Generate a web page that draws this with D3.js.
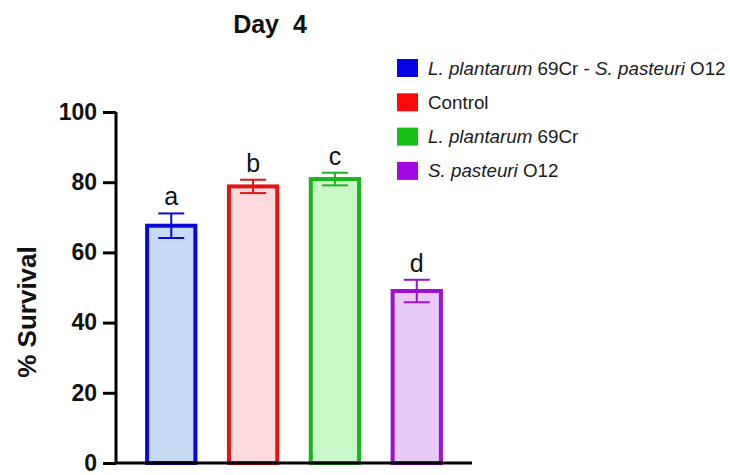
<!DOCTYPE html>
<html>
<head>
<meta charset="utf-8">
<script src="https://cdn.jsdelivr.net/npm/d3@7"></script>
<style>
  html, body { margin: 0; padding: 0; background: #fff; }
  text { font-family: "Liberation Sans", Arial, Helvetica, sans-serif; }
</style>
</head>
<body>
<svg id="chart" width="730" height="475"></svg>
<script>
// Day 4 survival per treatment group (mean ± SD) with significance letters
const groups = ["L. plantarum 69Cr - S. pasteuri O12", "Control", "L. plantarum 69Cr", "S. pasteuri O12"];
const means = [67.6, 78.8, 80.9, 49.0];
const errors = [3.5, 1.9, 1.8, 3.2];
const letters = ["a", "b", "c", "d"];
const yTicks = [0, 20, 40, 60, 80, 100];
const strokeColors = ["#0a0ad8", "#e21414", "#1cb41c", "#9a12d6"];
const fillColors = ["#c6daf4", "#fcdadd", "#c9f8c8", "#e9c9f5"];
const swatchColors = ["#0606e4", "#fb0a0a", "#14c014", "#a308e2"];
// legend entries as [text, italic] segments
const legendLabels = [
  [["L. plantarum", true], [" 69Cr - ", false], ["S. pasteuri", true], [" O12", false]],
  [["Control", false]],
  [["L. plantarum", true], [" 69Cr", false]],
  [["S. pasteuri", true], [" O12", false]]
];

const svg = d3.select("#chart");

const x = d3.scaleBand()
  .domain(groups)
  .range([116, 472])
  .paddingInner(0.41)
  .paddingOuter(0.38);

const y = d3.scaleLinear().domain([0, 100]).range([463, 112]);

// bars
const bars = svg.append("g");
groups.forEach((g, i) => {
  bars.append("rect")
    .attr("x", x(g))
    .attr("y", y(means[i]))
    .attr("width", x.bandwidth())
    .attr("height", y(0) - y(means[i]))
    .attr("fill", fillColors[i])
    .attr("stroke", strokeColors[i])
    .attr("stroke-width", 4);
});

// error bars and group letters
const capW = 26;
groups.forEach((g, i) => {
  const cx = x(g) + x.bandwidth() / 2;
  const hi = y(means[i] + errors[i]);
  const lo = y(means[i] - errors[i]);
  const eg = svg.append("g").attr("stroke", strokeColors[i]).attr("stroke-width", 2);
  eg.append("line").attr("x1", cx).attr("x2", cx).attr("y1", hi).attr("y2", lo);
  eg.append("line").attr("x1", cx - capW / 2).attr("x2", cx + capW / 2).attr("y1", hi).attr("y2", hi);
  eg.append("line").attr("x1", cx - capW / 2).attr("x2", cx + capW / 2).attr("y1", lo).attr("y2", lo);
  svg.append("text")
    .attr("x", cx)
    .attr("y", hi - 8)
    .attr("text-anchor", "middle")
    .attr("font-size", 25)
    .attr("fill", "#111")
    .text(letters[i]);
});

// y axis
const yAxis = svg.append("g")
  .attr("transform", "translate(116,0)")
  .call(d3.axisLeft(y).tickValues(yTicks).tickSize(13).tickPadding(6).tickFormat(d3.format("d")));
yAxis.select(".domain").attr("stroke", "#000").attr("stroke-width", 3)
  .attr("d", `M0,${y(100)}V${y(0)}`);
yAxis.selectAll(".tick line").attr("stroke", "#000").attr("stroke-width", 3);
yAxis.selectAll(".tick text")
  .attr("font-family", "'Liberation Sans', Arial, sans-serif")
  .attr("font-size", 23)
  .attr("font-weight", "bold")
  .attr("fill", "#111");

// x axis baseline
svg.append("line")
  .attr("x1", 116).attr("x2", 472)
  .attr("y1", y(0)).attr("y2", y(0))
  .attr("stroke", "#000").attr("stroke-width", 3);

// title
svg.append("text")
  .attr("x", 270)
  .attr("y", 33)
  .attr("text-anchor", "middle")
  .attr("font-size", 25)
  .attr("font-weight", "bold")
  .attr("fill", "#111")
  .style("white-space", "pre")
  .text("Day  4");

// y axis title
svg.append("text")
  .attr("transform", "translate(36,312) rotate(-90)")
  .attr("text-anchor", "middle")
  .attr("font-size", 26)
  .attr("font-weight", "bold")
  .attr("fill", "#111")
  .text("% Survival");

// legend
const legend = svg.append("g").attr("transform", "translate(397,0)");
legendLabels.forEach((parts, i) => {
  const cy = 68 + i * 34.3;
  legend.append("rect")
    .attr("x", 0).attr("y", cy - 9)
    .attr("width", 21).attr("height", 18)
    .attr("fill", swatchColors[i]);
  const t = legend.append("text")
    .attr("x", 31).attr("y", cy + 6.5)
    .attr("font-size", 18.8)
    .attr("fill", "#1a1a1a")
    .style("white-space", "pre");
  parts.forEach(([s, it]) => {
    t.append("tspan").attr("font-style", it ? "italic" : "normal").text(s);
  });
});
</script>
</body>
</html>
